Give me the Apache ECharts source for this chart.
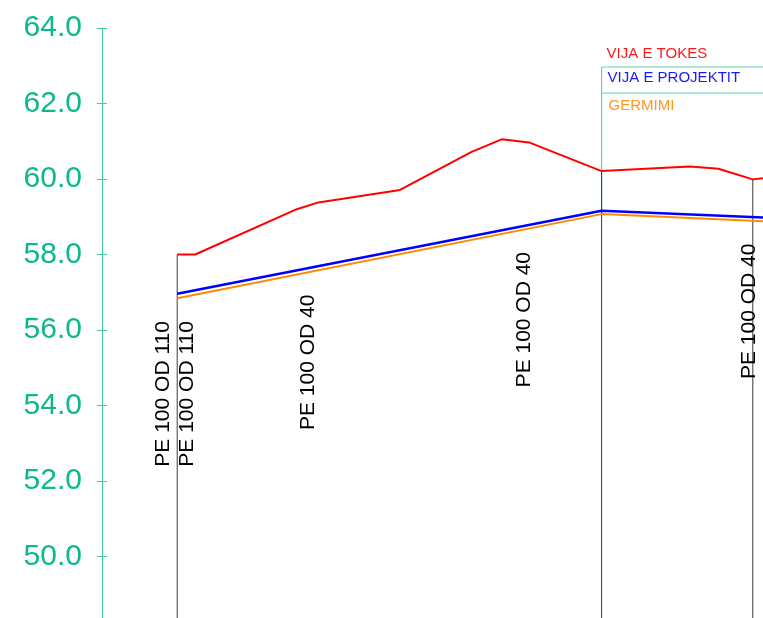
<!DOCTYPE html>
<html>
<head>
<meta charset="utf-8">
<script src="https://cdn.jsdelivr.net/npm/echarts@6/dist/echarts.min.js"></script>
<style>
html,body{margin:0;padding:0;background:#fff;}
#chart{width:763px;height:618px;}
</style>
</head>
<body>
<div id="chart"></div>
<script>
// ---- data ----
const groundStation = [0, 4.5, 29.9, 35.3, 55.7, 73.6, 81.1, 87.95, 106.1, 128.2, 135.3, 143.9, 146.45];
const groundElev    = [58.00, 58.00, 59.20, 59.38, 59.71, 60.72, 61.05, 60.97, 60.21, 60.33, 60.27, 59.99, 60.02];
const designStation = [0, 106.1, 146.45];
const designElev    = [56.96, 59.16, 58.98];
const trenchElev    = [56.84, 59.07, 58.88];
const profileStations = [0, 106.1, 143.9];
const pipeLabels      = ['PE 100 OD 110', 'PE 100 OD 110', 'PE 100 OD 40', 'PE 100 OD 40', 'PE 100 OD 40'];
const pipeLabelStation = [-3.4, 2.6, 32.7, 86.7, 143.0];
const pipeLabelElev    = [52.38, 52.38, 53.35, 54.48, 54.70];
const legendNames = ['VIJA E TOKES', 'VIJA E PROJEKTIT', 'GERMIMI'];
const yMin = 48, yMax = 64, yStep = 2;
const xMin = -18.8, xMax = 146.45;

const FONT = '"Liberation Sans", Arial, sans-serif';
const GREEN = '#0cb88c';
const AXIS_GREEN = '#45c9a2';
const BOX_GREEN = '#62d6b4';
const RED = '#ff0000', BLUE = '#0000ff', ORANGE = '#ff8a00';

function zip(xs, ys) { return xs.map((x, i) => [x, ys[i]]); }
function groundAt(s) {
  const i = groundStation.indexOf(s);
  if (i >= 0) return groundElev[i];
  for (let k = 0; k < groundStation.length - 1; k++) {
    if (s >= groundStation[k] && s <= groundStation[k + 1]) {
      const t = (s - groundStation[k]) / (groundStation[k + 1] - groundStation[k]);
      return groundElev[k] + t * (groundElev[k + 1] - groundElev[k]);
    }
  }
  return groundElev[groundElev.length - 1];
}
function designAt(s) {
  for (let k = 0; k < designStation.length - 1; k++) {
    if (s >= designStation[k] && s <= designStation[k + 1]) {
      const t = (s - designStation[k]) / (designStation[k + 1] - designStation[k]);
      return designElev[k] + t * (designElev[k + 1] - designElev[k]);
    }
  }
  return designElev[designElev.length - 1];
}

const chart = echarts.init(document.getElementById('chart'), null, {renderer: 'canvas'});

const series = [];
profileStations.forEach((s) => {
  series.push({
    type: 'line', silent: true, symbol: 'none', z: 1,
    lineStyle: {color: '#3a3a3a', width: 1},
    data: [[s, groundAt(s)], [s, yMin]]
  });
});
series.push({
  name: legendNames[2], type: 'line', symbol: 'none', z: 3,
  lineStyle: {color: ORANGE, width: 2},
  data: zip(designStation, trenchElev)
});
series.push({
  name: legendNames[1], type: 'line', symbol: 'none', z: 4,
  lineStyle: {color: BLUE, width: 2.5},
  data: zip(designStation, designElev)
});
series.push({
  name: legendNames[0], type: 'line', symbol: 'none', z: 5,
  lineStyle: {color: RED, width: 2},
  data: zip(groundStation, groundElev)
});

chart.setOption({
  animation: false,
  backgroundColor: '#ffffff',
  grid: {left: 102, right: 0, top: 28, height: 604, containLabel: false, outerBoundsMode: 'none'},
  xAxis: {type: 'value', min: xMin, max: xMax, show: false},
  yAxis: [
    {
      type: 'value', min: yMin, max: yMax, interval: yStep, position: 'left',
      axisLine: {show: true, onZero: false, lineStyle: {color: AXIS_GREEN, width: 1}},
      axisTick: {show: true, inside: false, length: 5, lineStyle: {color: AXIS_GREEN}},
      axisLabel: {
        show: true, showMinLabel: false, margin: 20, color: GREEN,
        fontSize: 30, fontFamily: FONT,
        formatter: (v) => v.toFixed(1)
      },
      splitLine: {show: false}
    },
    {
      type: 'value', min: yMin, max: yMax, interval: yStep, position: 'left', offset: 0,
      axisLine: {show: false, onZero: false},
      axisTick: {show: true, inside: true, length: 5, lineStyle: {color: AXIS_GREEN}},
      axisLabel: {show: false},
      splitLine: {show: false}
    }
  ],
  series: series
});

// ---- annotations placed through the chart's scales ----
const P = (x, y) => chart.convertToPixel({gridIndex: 0}, [x, y]);
const graphics = [];
pipeLabels.forEach((t, i) => {
  const p = P(pipeLabelStation[i], pipeLabelElev[i]);
  graphics.push({
    type: 'text', x: p[0], y: p[1], rotation: Math.PI / 2, z: 10,
    style: {text: t, font: '21px ' + FONT, fill: '#000', align: 'left', verticalAlign: 'middle'}
  });
});

// label box at the station 106.1
const boxStation = profileStations[1];
const left = P(boxStation, yMax)[0];
const boxTop = 67, boxMid = 93;
const blueY = P(boxStation, designAt(boxStation))[1];
graphics.push({type: 'line', z: 0, shape: {x1: left, y1: boxTop, x2: 763, y2: boxTop}, style: {stroke: BOX_GREEN, lineWidth: 1}});
graphics.push({type: 'line', z: 0, shape: {x1: left, y1: boxMid, x2: 763, y2: boxMid}, style: {stroke: BOX_GREEN, lineWidth: 1}});
graphics.push({type: 'line', z: 0, shape: {x1: left, y1: boxTop, x2: left, y2: blueY}, style: {stroke: BOX_GREEN, lineWidth: 1.2}});
graphics.push({type: 'text', x: left + 5, y: 54, style: {text: legendNames[0], font: '15px ' + FONT, fill: '#ff1a1a', align: 'left', verticalAlign: 'middle'}});
graphics.push({type: 'text', x: left + 6, y: 78, style: {text: legendNames[1], font: '15px ' + FONT, fill: '#1a1aff', align: 'left', verticalAlign: 'middle'}});
graphics.push({type: 'text', x: left + 7, y: 106, style: {text: legendNames[2], font: '15px ' + FONT, fill: '#ff9420', align: 'left', verticalAlign: 'middle'}});

chart.setOption({graphic: graphics});
</script>
</body>
</html>
